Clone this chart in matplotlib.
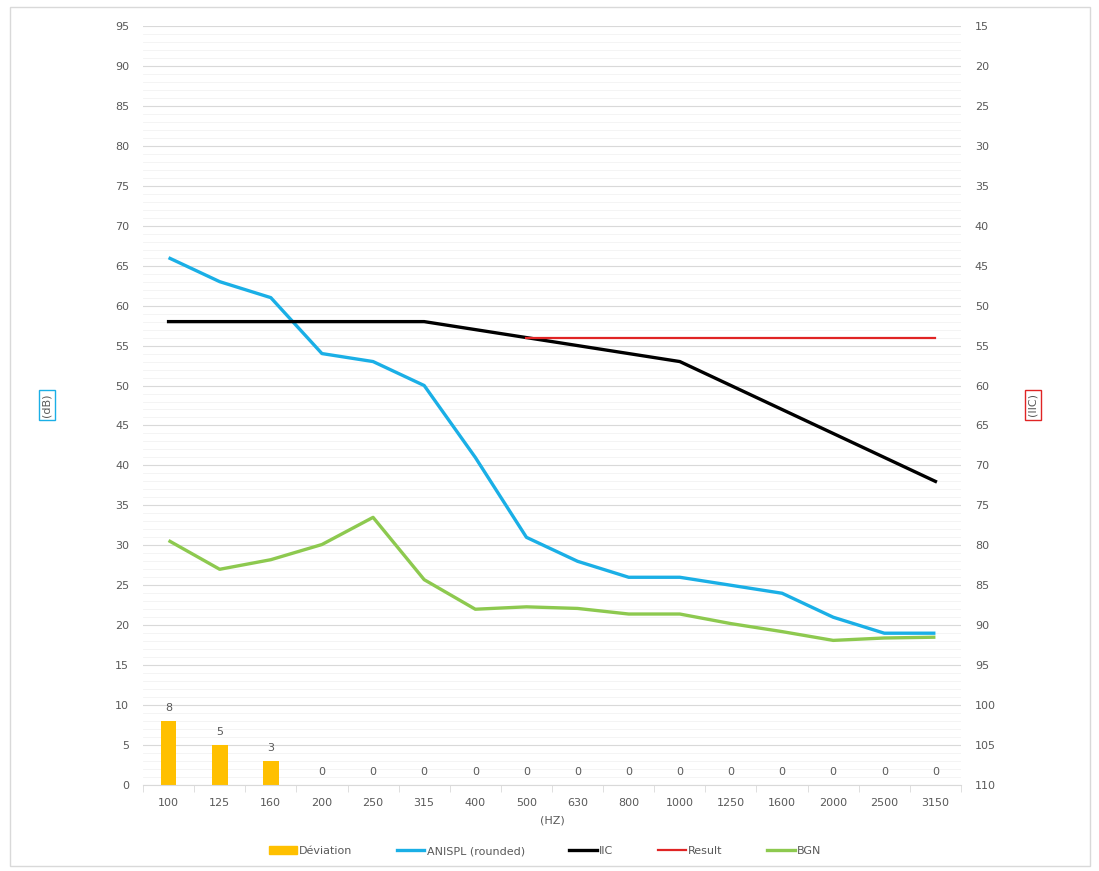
import matplotlib
matplotlib.use('Agg')
import matplotlib.pyplot as plt
from matplotlib.patches import Rectangle, Patch
from matplotlib.lines import Line2D
import numpy as np

# one-third octave bands (Hz)
freqs = ['100', '125', '160', '200', '250', '315', '400', '500',
         '630', '800', '1000', '1250', '1600', '2000', '2500', '3150']
deviation = [8, 5, 3, 0, 0, 0, 0, 0, 0, 0, 0, 0, 0, 0, 0, 0]
anispl = [66, 63, 61, 54, 53, 50, 41, 31, 28, 26, 26, 25, 24, 21, 19, 19]
bgn = [30.6, 27.0, 28.2, 30.1, 33.5, 25.7, 22.0, 22.3, 22.1, 21.4, 21.4,
       20.2, 19.2, 18.1, 18.4, 18.5]
# IIC contour and result, read on the secondary (reversed) axis
iic = [52, 52, 52, 52, 52, 52, 53, 54, 55, 56, 57, 60, 63, 66, 69, 72]
result_bands = freqs[7:]
result = [54] * len(result_bands)

txt = '#595959'
grid_major = '#d9d9d9'
grid_minor = '#f3f3f3'

fig = plt.figure(figsize=(10.99, 8.71), dpi=100)
fig.patches.append(Rectangle((10/1099, 1-866/871), 1080/1099, 859/871,
                             transform=fig.transFigure, fill=False,
                             edgecolor='#d9d9d9', lw=1))

ax = fig.add_axes([143/1099, 1-785/871, 818/1099, 759/871])
ax2 = ax.twinx()

x = np.arange(len(freqs))

ax.set_ylim(0, 95)
ax.set_xlim(-0.5, len(freqs)-0.5)
ax.set_yticks(np.arange(0, 96, 5))
ax.set_yticks(np.arange(0, 96, 1), minor=True)
ax.grid(axis='y', which='major', color=grid_major, lw=0.8)
ax.grid(axis='y', which='minor', color=grid_minor, lw=0.6)
ax.set_axisbelow(True)

bars = ax.bar(x, deviation, width=0.31, color='#ffc000', zorder=2)
for xi, v in zip(x, deviation):
    ax.text(xi, v + 1.0, str(v), ha='center', va='bottom', fontsize=8, color=txt)

ax.plot(x, anispl, color='#1aafe6', lw=2.4, zorder=3, solid_capstyle='butt')
ax.plot(x, bgn, color='#8dc94f', lw=2.4, zorder=3, solid_capstyle='butt')

ax2.set_ylim(110, 15)
ax2.set_yticks(np.arange(15, 111, 5))
ax2.plot(x, iic, color='black', lw=2.4, zorder=4)
ax2.plot(x[7:], result, color='#e02424', lw=1.6, zorder=4)

for a in (ax, ax2):
    for s in ('top', 'left', 'right'):
        a.spines[s].set_visible(False)
    a.spines['bottom'].set_color(grid_major)
    a.tick_params(axis='y', which='both', length=0, labelsize=8, labelcolor=txt, pad=10)
ax2.spines['bottom'].set_visible(False)

ax.set_xticks(x)
ax.set_xticklabels(freqs)
ax.set_xticks(np.arange(-0.5, len(freqs), 1), minor=True)
ax.tick_params(axis='x', which='major', length=0, labelsize=8, labelcolor=txt, pad=9)
ax.tick_params(axis='x', which='minor', length=5, color=grid_major)
ax.set_xlabel('(HZ)', fontsize=8, color=txt, labelpad=6)

fig.text(47/1099, 1-405/871, '(dB)', rotation=90, ha='center', va='center',
         fontsize=8, color=txt,
         bbox=dict(boxstyle='square,pad=0.3', fc='white', ec='#1aafe6', lw=1))
fig.text(1033/1099, 1-405/871, '(IIC)', rotation=90, ha='center', va='center',
         fontsize=8, color=txt,
         bbox=dict(boxstyle='square,pad=0.3', fc='white', ec='#e02424', lw=1))

handles = [Patch(color='#ffc000'),
           Line2D([], [], color='#1aafe6', lw=2.4),
           Line2D([], [], color='black', lw=2.4),
           Line2D([], [], color='#e02424', lw=1.6),
           Line2D([], [], color='#8dc94f', lw=2.4)]
labels = ['Déviation', 'ANISPL (rounded)', 'IIC', 'Result', 'BGN']
fig.legend(handles, labels, loc='center', bbox_to_anchor=(545/1099, 1-851/871),
           ncol=5, frameon=False, fontsize=8, labelcolor=txt,
           handlelength=2.5, handletextpad=0.2, columnspacing=4.0,
           handleheight=0.7)

fig.savefig('out.png', dpi=100)
